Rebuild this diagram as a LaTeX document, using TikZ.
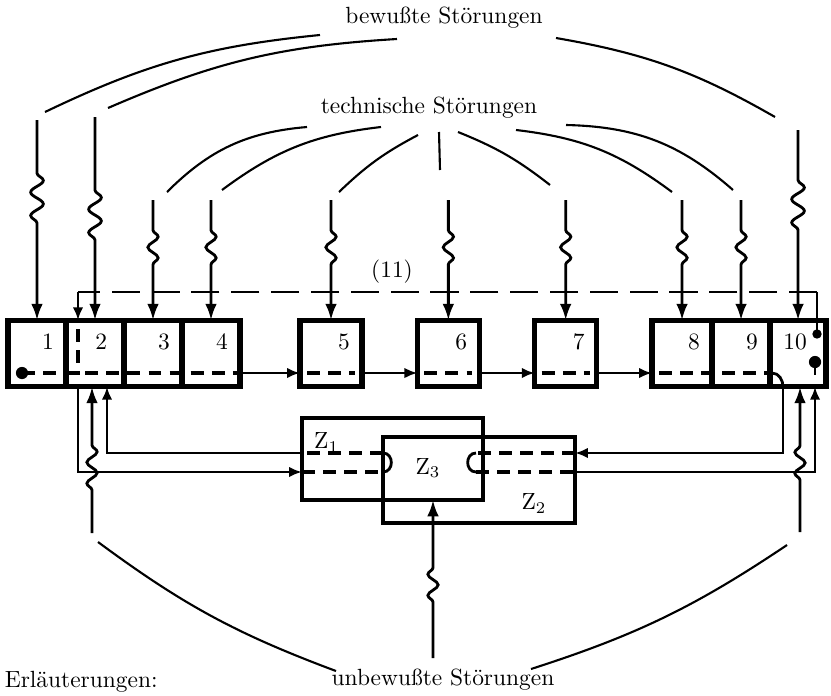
\documentclass[tikz,border=0pt]{standalone}
\usepackage{amsmath}
\usepackage{tikz}
\usetikzlibrary{arrows.meta, calc, positioning, decorations.pathmorphing}

\begin{document}
\begin{tikzpicture}[x=0.015cm, y=-0.015cm,
    block_style/.style={rectangle, draw, line width=2.2pt, minimum height=1cm,
      outer sep=0pt, inner sep=0pt},
    num_style/.style={anchor=north east, inner sep=0pt, xshift=-5pt, yshift=-5.5pt},
    z_style/.style={rectangle, draw, line width=2pt, outer sep=0pt, inner sep=0pt},
    in_style/.style={line width=1.2pt, -{Latex[length=7pt,width=5pt]},
      decoration={snake, amplitude=2.2pt, segment length=9pt}},
    big_zig/.style={in_style, decoration={snake, amplitude=2.7pt, segment length=10pt}},
    link_style/.style={line width=1.2pt},
    flow_arrow/.style={line width=1.2pt, -{Latex[length=5.5pt,width=4.5pt]}},
    flow_dash/.style={line width=1.4pt, dash pattern=on 5.5pt off 3.5pt},
    curve_style/.style={line width=0.9pt},
    node distance=0.83cm]

  \useasboundingbox (0,0) rectangle (831,695);

  % row of blocks
  \node[block_style, minimum width=0.87cm, label={[num_style]north east:1}] (b1) at (37,353.5) {};
  \node[block_style, minimum width=0.87cm, label={[num_style, xshift=-2pt]north east:2}, right=0pt of b1] (b2) {};
  \node[block_style, minimum width=0.87cm, label={[num_style]north east:3}, right=0pt of b2] (b3) {};
  \node[block_style, minimum width=0.87cm, label={[num_style]north east:4}, right=0pt of b3] (b4) {};
  \node[block_style, minimum width=0.93cm, label={[num_style]north east:5}, right=0.9cm of b4] (b5) {};
  \node[block_style, minimum width=0.93cm, label={[num_style]north east:6}, right=of b5] (b6) {};
  \node[block_style, minimum width=0.93cm, label={[num_style]north east:7}, right=of b6] (b7) {};
  \node[block_style, minimum width=0.9cm, label={[num_style]north east:8}, right=of b7] (b8) {};
  \node[block_style, minimum width=0.87cm, label={[num_style]north east:9}, right=0pt of b8] (b9) {};
  \node[block_style, minimum width=0.84cm, label={[num_style, xshift=-3pt]north east:10}, right=0pt of b9] (b10) {};

  % Z blocks
  \node[z_style, minimum width=2.715cm, minimum height=1.23cm,
    label={[anchor=north west, inner sep=0pt, xshift=5pt, yshift=-6pt]north west:$\mathrm{Z}_1$}] (z1) at (392.5,459) {};
  \node[z_style, minimum width=2.88cm, minimum height=1.29cm,
    label={[anchor=south east, inner sep=0pt, xshift=-12pt, yshift=4pt]south east:$\mathrm{Z}_2$}] (z2) at (479,480) {};
  \node (z3) at (428,468) {$\mathrm{Z}_3$};

  % texts
  \node (bew) at (444,18) {bewußte Störungen};
  \node (tech) at (429,108) {technische Störungen};
  \node (unbew) at (443,680) {unbewußte Störungen};
  \node (n11) at (392,272) {(11)};
  \node[anchor=south west, inner sep=1pt] (erl) at (2,695) {Erläuterungen:};

  \coordinate (flow) at (0,373);
  \coordinate (zup) at (0,453);
  \coordinate (zlo) at (0,472);
  \coordinate (l11) at (78,292);
  \coordinate (r11) at (817,292);
  \coordinate (fb2) at (107,0);
  \coordinate (fb10) at (783,0);
  \coordinate (ret10) at (815,0);
  \coordinate (u2) at (92,533);
  \coordinate (u10) at (800,532);
  \coordinate (u3) at (433,658);

  % main flow
  \fill ($(b1.west |- flow)+(14,0)$) coordinate (start) circle (2.6pt);
  \draw[flow_dash] (start) -- ($(b4.east |- flow)+(-3,0)$);
  \foreach \a/\b in {4/5, 5/6, 6/7, 7/8}
    \draw[flow_arrow] (b\a.east |- flow) -- (b\b.west |- flow);
  \foreach \b in {5,6,7}
    \draw[flow_dash] ($(b\b.west |- flow)+(7,0)$) -- ($(b\b.east |- flow)+(-7,0)$);
  \draw[flow_dash] ($(b8.west |- flow)+(7,0)$) -- ($(fb10 |- flow)+(-11,0)$);
  \draw[link_style] ($(fb10 |- flow)+(-11,0)$) to[out=0, in=90] (fb10 |- b10.south);
  \draw[flow_arrow] (fb10 |- b10.south) -- (fb10 |- zup) -- (z2.east |- zup);

  % line (11)
  \fill (817,334) coordinate (o11) circle (2pt);
  \draw[link_style] (o11) -- (r11);
  \draw[line width=1.2pt, dash pattern=on 12pt off 5pt] (r11) -- (l11);
  \draw[flow_arrow] (l11) -- (l11 |- b2.north);
  \draw[flow_dash] ($(l11 |- b2.north)+(0,9)$) -- ($(l11 |- b2.south)+(0,-12)$);
  \draw[flow_arrow] (l11 |- b2.south) -- (l11 |- zlo) -- (z1.west |- zlo);

  % inside Z
  \draw[flow_dash] (z1.west |- zlo) -- (z2.west |- zlo);
  \draw[link_style] (z2.west |- zlo) to[out=0, in=0, looseness=1.5] (z2.west |- zup);
  \draw[flow_dash] (z2.west |- zup) -- (z1.west |- zup);
  \draw[flow_arrow] (z1.west |- zup) -- (fb2 |- zup) -- (fb2 |- b2.south);

  \draw[flow_dash] (z2.east |- zup) -- ($(z1.east |- zup)+(-7,0)$);
  \draw[link_style] ($(z1.east |- zup)+(-7,0)$) to[out=180, in=180, looseness=1.5] ($(z1.east |- zlo)+(-7,0)$);
  \draw[flow_dash] ($(z1.east |- zlo)+(-7,0)$) -- (z2.east |- zlo);
  \draw[flow_arrow] (z2.east |- zlo) -- (ret10 |- zlo) -- (ret10 |- b10.south);
  \fill (815,362) coordinate (d10) circle (2.6pt);
  \draw[link_style] (d10) -- (815,375);

  % unconscious disturbances
  \draw[in_style] (u2) -- ++(0,-43) decorate {-- ++(0,-45)} -- (u2 |- b2.south);
  \draw[in_style] (u10) -- ++(0,-52) decorate {-- ++(0,-37)} -- (u10 |- b10.south);
  \draw[in_style] (u3) -- ++(0,-56) decorate {-- ++(0,-44)} -- (u3 |- z1.south);

  % conscious and technical disturbances
  \foreach \b/\t/\zs/\zl in {1/200/53/60, 2/203/73/50, 10/190/50/60} {
    \path (b\b.north) ++(0,-\t) coordinate (s\b);
    \draw[big_zig] (s\b) -- ++(0,\zs) decorate {-- ++(0,\zl)} -- (b\b.north);
  }
  \foreach \b in {3,...,9} {
    \path (b\b.north) ++(0,-120) coordinate (s\b);
    \draw[in_style] (s\b) -- ++(0,30) decorate {-- ++(0,40)} -- (b\b.north);
  }

  \draw[curve_style] (320,35) to[bend right=10] (45,112);
  \draw[curve_style] (397,39) to[bend right=10] (108,108);
  \draw[curve_style] (556,38) to[bend left=10] (775,117);

  \draw[curve_style] (307,127) to[bend right=20] (167,192);
  \draw[curve_style] (381,127) to[bend right=15] (222,190);
  \draw[curve_style] (418,135) to[bend right=8] (339,192);
  \draw[curve_style] (439,132) -- (440,170);
  \draw[curve_style] (458,132) to[bend left=8] (550,185);
  \draw[curve_style] (516,130) to[bend left=15] (672,192);
  \draw[curve_style] (566,125) to[bend left=20] (733,190);

  \draw[curve_style] (98,542) to[bend right=8] (336,671);
  \draw[curve_style] (787,545) to[bend left=8] (531,669);
\end{tikzpicture}
\end{document}
